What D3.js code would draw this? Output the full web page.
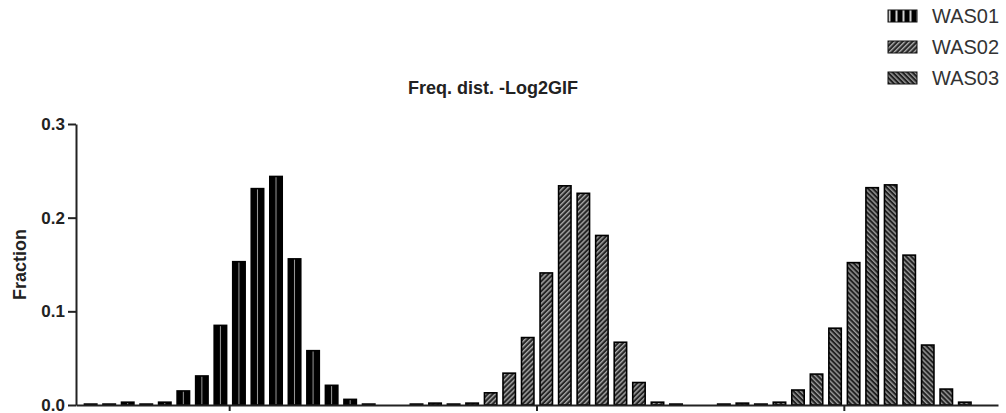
<!DOCTYPE html>
<html>
<head>
<meta charset="utf-8">
<script src="https://cdn.jsdelivr.net/npm/d3@7"></script>
<style>
  html, body { margin: 0; padding: 0; background: #fff; }
  svg { display: block; font-family: "Liberation Sans", Arial, sans-serif; }
</style>
</head>
<body>
<svg id="chart" width="1006" height="413"></svg>
<script>
// ---- data ----
const groups = ["WAS01", "WAS02", "WAS03"];
const bins = ["1","2","3","4","5","6","7","8","9","10","11","12","13","14","15","16"];
const was01 = [0.001, 0.001, 0.003, 0.001, 0.003, 0.015, 0.031, 0.085, 0.153, 0.231, 0.244, 0.156, 0.058, 0.021, 0.006, 0.001];
const was02 = [0.000, 0.001, 0.002, 0.001, 0.002, 0.013, 0.034, 0.072, 0.141, 0.234, 0.226, 0.181, 0.067, 0.024, 0.003, 0.001];
const was03 = [0.000, 0.001, 0.002, 0.001, 0.003, 0.016, 0.033, 0.082, 0.152, 0.232, 0.235, 0.160, 0.064, 0.017, 0.003, 0.000];
const yTicks = [0, 0.1, 0.2, 0.3];
const titleText = "Freq. dist. -Log2GIF";
const yLabel = "Fraction";

const seriesValues = { WAS01: was01, WAS02: was02, WAS03: was03 };

// ---- layout ----
const svg = d3.select("#chart");
const mLeft = 76, mRight = 998, mTop = 124, mBottom = 405;

const x0 = d3.scaleBand().domain(groups).range([mLeft, mRight]).padding(0);
const x1 = d3.scaleBand().domain(bins).range([0, x0.bandwidth()]).paddingInner(0.33).paddingOuter(0.455);
const y = d3.scaleLinear().domain([0, 0.3]).range([mBottom, mTop]);

// ---- patterns ----
const defs = svg.append("defs");
const p1 = defs.append("pattern").attr("id", "p1")
  .attr("patternUnits", "objectBoundingBox").attr("patternContentUnits", "objectBoundingBox")
  .attr("width", 1).attr("height", 1);
p1.append("rect").attr("width", 1).attr("height", 1).attr("fill", "#000");
p1.append("rect").attr("x", 0.46).attr("width", 0.08).attr("height", 1).attr("fill", "#9a9a9a");
const p1l = defs.append("pattern").attr("id", "p1l")
  .attr("patternUnits", "userSpaceOnUse").attr("width", 7).attr("height", 20).attr("x", 1.5);
p1l.append("rect").attr("width", 7).attr("height", 20).attr("fill", "#000");
p1l.append("rect").attr("x", 5).attr("width", 2).attr("height", 20).attr("fill", "#cfcfcf");

function hatch(id, angle, bg, fg) {
  const p = defs.append("pattern").attr("id", id)
    .attr("patternUnits", "userSpaceOnUse").attr("width", 3.5).attr("height", 3.5)
    .attr("patternTransform", `rotate(${angle})`);
  p.append("rect").attr("width", 3.5).attr("height", 3.5).attr("fill", bg);
  p.append("rect").attr("x", 0).attr("width", 1.4).attr("height", 3.5).attr("fill", fg);
}
hatch("p2", 45, "#262626", "#a8a8a8");
hatch("p3", -45, "#222222", "#9c9c9c");

const fills = { WAS01: "url(#p1)", WAS02: "url(#p2)", WAS03: "url(#p3)" };
const legendFills = { WAS01: "url(#p1l)", WAS02: "url(#p2)", WAS03: "url(#p3)" };

// ---- bars ----
const g = svg.append("g");
groups.forEach(grp => {
  const vals = seriesValues[grp];
  g.append("g").attr("transform", `translate(${x0(grp)},0)`)
    .selectAll("rect").data(bins.map((b, i) => ({ bin: b, v: vals[i] })).filter(d => d.v > 0))
    .join("rect")
    .attr("x", d => x1(d.bin))
    .attr("width", x1.bandwidth())
    .attr("y", d => y(d.v))
    .attr("height", d => y(0) - y(d.v))
    .attr("fill", fills[grp])
    .attr("stroke", "#000")
    .attr("stroke-width", 1.6);
});

// ---- axes ----
const yAxis = svg.append("g").attr("transform", `translate(${mLeft},0)`)
  .call(d3.axisLeft(y).tickValues(yTicks).tickFormat(d3.format(".1f")).tickSize(8).tickSizeOuter(0).tickPadding(3));
yAxis.selectAll("path, line").attr("stroke", "#222").attr("stroke-width", 2);
yAxis.selectAll("text").attr("font-size", 17).attr("font-weight", "bold").attr("fill", "#222")
  .attr("font-family", "Liberation Sans, Arial, sans-serif");

const xAxis = svg.append("g").attr("transform", `translate(0,${mBottom})`)
  .call(d3.axisBottom(x0).tickSize(6).tickSizeOuter(0).tickFormat(""));
xAxis.selectAll("path, line").attr("stroke", "#222").attr("stroke-width", 2);

// ---- labels ----
svg.append("text").attr("x", 493).attr("y", 94).attr("text-anchor", "middle")
  .attr("font-size", 18).attr("font-weight", "bold").attr("fill", "#222").text(titleText);

svg.append("text").attr("transform", `translate(26,${(mTop + mBottom) / 2}) rotate(-90)`)
  .attr("text-anchor", "middle").attr("font-size", 18).attr("font-weight", "bold").attr("fill", "#222")
  .text(yLabel);

// ---- legend ----
const legend = svg.append("g");
groups.forEach((grp, i) => {
  const cy = 16 + i * 31;
  legend.append("rect").attr("x", 888).attr("y", cy - 6).attr("width", 29).attr("height", 12)
    .attr("fill", legendFills[grp]).attr("stroke", "#111").attr("stroke-width", 1);
  legend.append("text").attr("x", 932).attr("y", cy + 7).attr("font-size", 20).attr("fill", "#333")
    .text(grp);
});
</script>
</body>
</html>
